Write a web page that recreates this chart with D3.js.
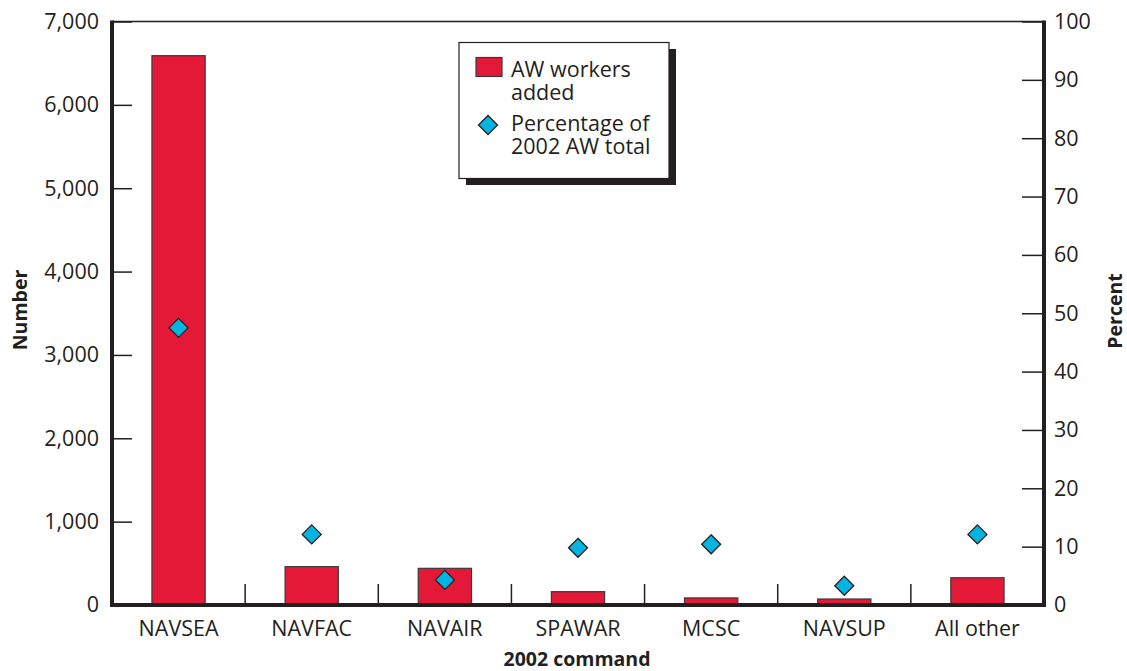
<!DOCTYPE html>
<html><head><meta charset="utf-8">
<script src="https://cdn.jsdelivr.net/npm/d3@7"></script>
<style>
body{margin:0;background:#fff;}
text{font-family:"Open Sans","Noto Sans",sans-serif;fill:#231f20;}
</style></head>
<body><svg id="c" width="1127" height="671"></svg>
<script>
const categories = ["NAVSEA","NAVFAC","NAVAIR","SPAWAR","MCSC","NAVSUP","All other"];
const workersAdded = [6590, 460, 440, 160, 85, 72, 327];
const percentOfTotal = [47.5, 12.1, 4.3, 9.8, 10.4, 3.3, 12.1];
const leftTicks = [0,1000,2000,3000,4000,5000,6000,7000];
const rightTicks = [0,10,20,30,40,50,60,70,80,90,100];
const legendItems = [["AW workers","added"],["Percentage of","2002 AW total"]];

const svg = d3.select("#c");
const L = 112, R = 1044, T = 21.5, B = 605;
const x = d3.scaleBand().domain(categories).range([L, R]).paddingInner(0).paddingOuter(0);
const y = d3.scaleLinear().domain([0, 7000]).range([B, T]);
const y2 = d3.scaleLinear().domain([0, 100]).range([B, T]);
const ink = "#231f20";
const fs = "21.5px";

// top border
svg.append("line").attr("x1", L).attr("x2", R).attr("y1", T).attr("y2", T)
  .attr("stroke", ink).attr("stroke-width", 1.5);

// bars
const barW = x.bandwidth() * 0.4;
svg.append("g").selectAll("rect").data(categories).join("rect")
  .attr("x", (d) => x(d) + x.bandwidth()/2 - barW/2)
  .attr("width", barW)
  .attr("y", (d, i) => y(workersAdded[i]))
  .attr("height", (d, i) => B - y(workersAdded[i]))
  .attr("fill", "#e31937").attr("stroke", "#3a3a3a").attr("stroke-width", 1.2);

// left axis
const ax = svg.append("g").attr("transform", `translate(${L},0)`)
  .call(d3.axisLeft(y).tickValues(leftTicks).tickFormat(d3.format(",")).tickSize(-20).tickPadding(13));
ax.select(".domain").remove();
ax.selectAll(".tick line").attr("stroke", ink).attr("stroke-width", 1.5);
ax.selectAll(".tick text").style("font-size", fs).attr("fill", ink);

// right axis
const ax2 = svg.append("g").attr("transform", `translate(${R},0)`)
  .call(d3.axisRight(y2).tickValues(rightTicks).tickSize(-22).tickPadding(10));
ax2.select(".domain").remove();
ax2.selectAll(".tick line").attr("stroke", ink).attr("stroke-width", 1.5);
ax2.selectAll(".tick text").style("font-size", fs).attr("fill", ink);

// bottom axis with separator ticks
const bx = svg.append("g").attr("transform", `translate(0,${B})`)
  .call(d3.axisBottom(x).tickSize(0).tickPadding(16));
bx.select(".domain").remove();
bx.selectAll(".tick text").style("font-size", fs).attr("fill", ink);
svg.append("g").selectAll("line").data(categories.slice(1)).join("line")
  .attr("x1", d => x(d)).attr("x2", d => x(d)).attr("y1", B - 21).attr("y2", B)
  .attr("stroke", ink).attr("stroke-width", 1.5);

// thick axis lines
svg.append("line").attr("x1", L).attr("x2", L).attr("y1", T - 1).attr("y2", B + 2).attr("stroke", ink).attr("stroke-width", 4);
svg.append("line").attr("x1", R).attr("x2", R).attr("y1", T - 1).attr("y2", B + 2).attr("stroke", ink).attr("stroke-width", 4);
svg.append("line").attr("x1", L - 2).attr("x2", R + 2).attr("y1", B).attr("y2", B).attr("stroke", ink).attr("stroke-width", 4);

// diamonds
const dr = 9.5;
const diamond = `M0,${-dr}L${dr},0L0,${dr}L${-dr},0Z`;
svg.append("g").selectAll("path").data(categories).join("path")
  .attr("d", diamond)
  .attr("transform", (d, i) => `translate(${x(d) + x.bandwidth()/2},${y2(percentOfTotal[i])})`)
  .attr("fill", "#00b5e2").attr("stroke", ink).attr("stroke-width", 1.3);

// axis titles
svg.append("text").attr("transform", "translate(27,310) rotate(-90)").attr("text-anchor", "middle")
  .style("font-size", "19.5px").style("font-weight", "bold").text("Number");
svg.append("text").attr("transform", "translate(1122,311) rotate(-90)").attr("text-anchor", "middle")
  .style("font-size", "19.5px").style("font-weight", "bold").text("Percent");
svg.append("text").attr("x", 577).attr("y", 666).attr("text-anchor", "middle")
  .style("font-size", "19.5px").style("font-weight", "bold").text("2002 command");

// legend
const lg = svg.append("g");
lg.append("rect").attr("x", 466).attr("y", 49).attr("width", 210).attr("height", 136).attr("fill", ink);
lg.append("rect").attr("x", 459).attr("y", 42.5).attr("width", 210).attr("height", 136)
  .attr("fill", "#fff").attr("stroke", ink).attr("stroke-width", 1.2);
lg.append("rect").attr("x", 476).attr("y", 57.5).attr("width", 26).attr("height", 19)
  .attr("fill", "#e31937").attr("stroke", "#3a3a3a").attr("stroke-width", 1.2);
lg.append("path").attr("d", diamond).attr("transform", "translate(488,125)")
  .attr("fill", "#00b5e2").attr("stroke", ink).attr("stroke-width", 1.3);
lg.selectAll("text.l").data(legendItems.flatMap((d, i) => d.map((t, j) => ({t, i, j})))).join("text").attr("class", "l")
  .attr("x", 511).attr("y", d => (d.i === 0 ? 77 : 131) + d.j * 23)
  .style("font-size", fs).text(d => d.t);
</script></body></html>
